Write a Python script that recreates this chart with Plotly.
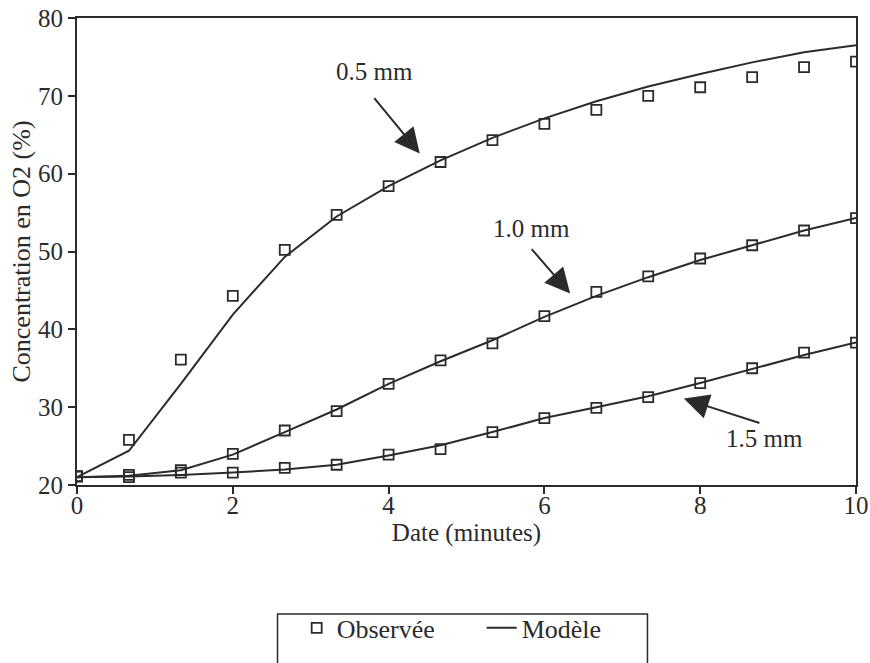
import plotly.graph_objects as go

# Time (minutes)
t = [0, 0.667, 1.333, 2, 2.667, 3.333, 4, 4.667, 5.333, 6, 6.667, 7.333, 8, 8.667, 9.333, 10]

# Observed O2 concentration (%)
obs_05 = [21.1, 25.8, 36.1, 44.3, 50.2, 54.7, 58.4, 61.5, 64.3, 66.4, 68.2, 70.0, 71.1, 72.4, 73.7, 74.4]
obs_10 = [21.1, 21.3, 21.9, 24.0, 27.0, 29.5, 33.0, 36.0, 38.2, 41.7, 44.8, 46.8, 49.1, 50.8, 52.7, 54.3]
obs_15 = [21.1, 21.0, 21.6, 21.6, 22.2, 22.6, 23.9, 24.6, 26.8, 28.6, 29.9, 31.3, 33.1, 35.0, 37.0, 38.3]

# Model O2 concentration (%)
mod_05 = [21.0, 24.4, 33.0, 41.9, 49.3, 54.5, 58.4, 61.7, 64.6, 67.1, 69.3, 71.2, 72.8, 74.3, 75.6, 76.5]
mod_10 = [21.0, 21.2, 21.9, 23.9, 26.8, 29.7, 33.0, 35.9, 38.6, 41.6, 44.3, 46.7, 48.9, 50.8, 52.7, 54.3]
mod_15 = [21.0, 21.1, 21.3, 21.6, 22.0, 22.6, 23.8, 25.1, 26.8, 28.6, 30.0, 31.4, 33.1, 34.9, 36.7, 38.3]

labels = ["0.5 mm", "1.0 mm", "1.5 mm"]
# annotation text position, arrow tail and arrow tip (data coords)
label_pos = [(3.82, 73.1), (5.84, 53.0), (8.82, 26.0)]
arrow_tail = [(3.80, 69.9), (5.82, 50.5), (8.78, 27.9)]
arrow_tip = [(4.40, 62.6), (6.33, 44.6), (7.79, 31.1)]

INK = "#2b2b2b"
FONT = "Liberation Serif"

fig = go.Figure()

for i, m in enumerate([mod_05, mod_10, mod_15]):
    fig.add_trace(go.Scatter(
        x=t, y=m, mode="lines", name="Modèle",
        line=dict(color=INK, width=2),
        showlegend=(i == 0), legendrank=2, legendgroup="mod"))

for i, o in enumerate([obs_05, obs_10, obs_15]):
    fig.add_trace(go.Scatter(
        x=t, y=o, mode="markers", name="Observée",
        marker=dict(symbol="square-open", size=10, color=INK, line=dict(width=1.8, color=INK)),
        showlegend=(i == 0), legendrank=1, legendgroup="obs"))

for lab, (lx, ly), (ax, ay), (tx, ty) in zip(labels, label_pos, arrow_tail, arrow_tip):
    fig.add_annotation(x=lx, y=ly, text=lab, showarrow=False,
                       font=dict(family=FONT, size=25, color=INK))
    fig.add_annotation(x=tx, y=ty, ax=ax, ay=ay, xref="x", yref="y", axref="x", ayref="y",
                       text="", showarrow=True, arrowhead=2, arrowsize=2.5, arrowwidth=2,
                       arrowcolor=INK)

# legend frame
fig.add_shape(type="rect", xref="paper", yref="paper",
              x0=0.2574, x1=0.7323, y0=-0.40, y1=-0.2760,
              line=dict(color=INK, width=1.5), fillcolor="rgba(0,0,0,0)")

axis_common = dict(
    showline=True, linecolor=INK, linewidth=2, mirror=True,
    ticks="outside", ticklen=7, tickwidth=1.5, tickcolor=INK,
    showgrid=False, zeroline=False, automargin=False,
    tickfont=dict(family=FONT, size=25, color=INK),
)

fig.update_layout(
    width=870, height=663,
    margin=dict(l=77, r=14, t=18, b=174),
    paper_bgcolor="white", plot_bgcolor="white",
    font=dict(family=FONT, color=INK, size=25),
    xaxis=dict(range=[0, 10], tickvals=[0, 2, 4, 6, 8, 10], ticklabelstandoff=-10,
               title=dict(text="Date (minutes)", font=dict(family=FONT, size=25, color=INK), standoff=5),
               **axis_common),
    yaxis=dict(range=[20, 80], tickvals=[20, 30, 40, 50, 60, 70, 80],
               title=dict(text="Concentration en O2 (%)", font=dict(family=FONT, size=26, color=INK), standoff=0),
               **axis_common),
    legend=dict(orientation="h", x=0.282, xanchor="left", y=-0.306, yanchor="middle",
                font=dict(family=FONT, size=26, color=INK),
                bgcolor="rgba(0,0,0,0)", borderwidth=0,
                entrywidth=140, entrywidthmode="pixels"),
)

fig.write_html("out.html", config={"displayModeBar": False},
               post_script="document.body.style.margin='0';")
